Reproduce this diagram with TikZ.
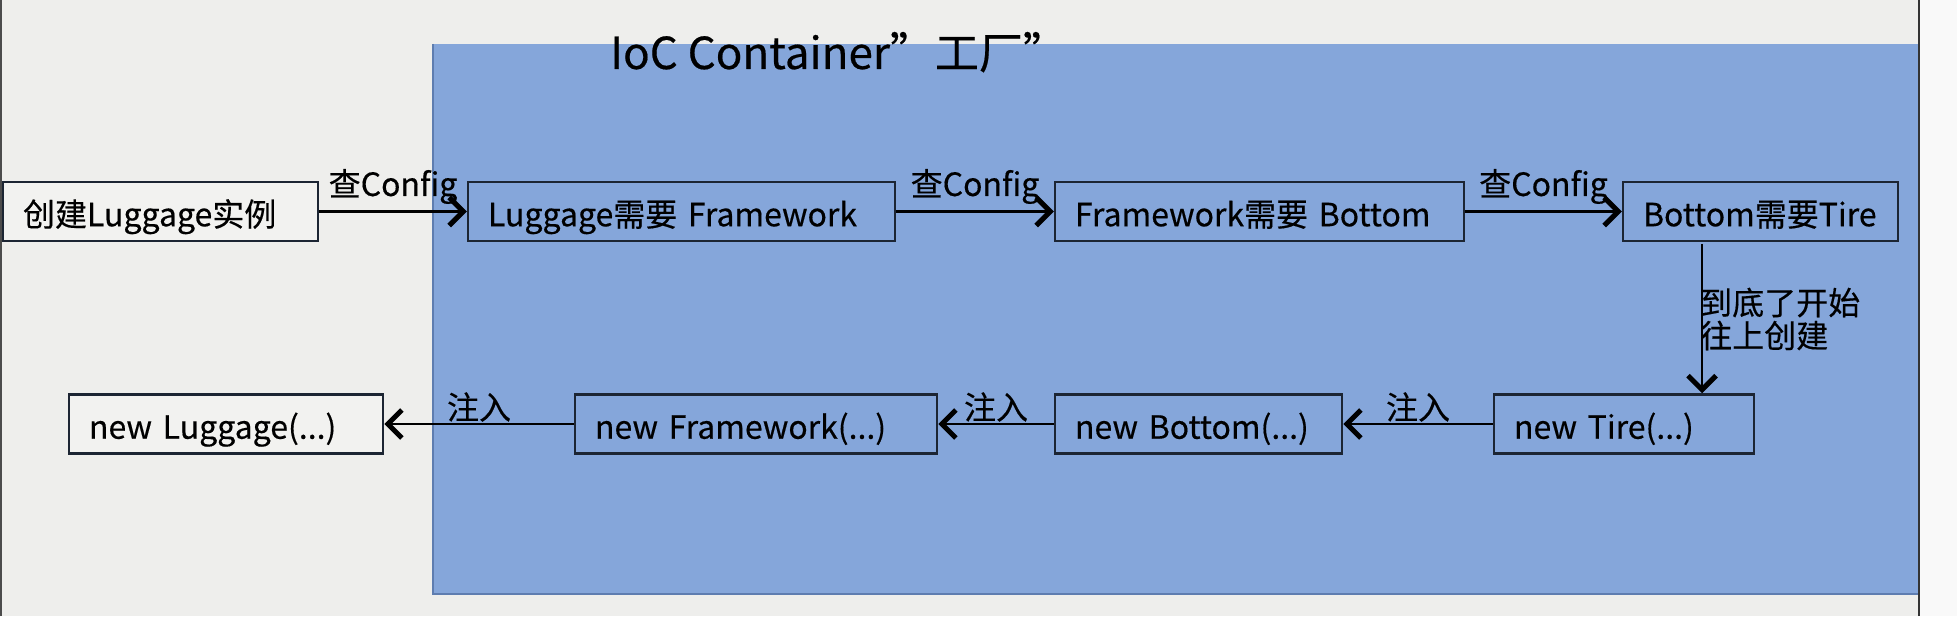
\documentclass[tikz,border=0pt]{standalone}
\usepackage{fontspec}
\setmainfont{Noto Sans CJK SC}[FakeBold=0.4]
\usetikzlibrary{arrows.meta}
\definecolor{bggray}{HTML}{EEEEEC}
\definecolor{boxfill}{HTML}{F2F2F0}
\definecolor{bgwhite}{HTML}{F9F9F9}
\definecolor{iocblue}{HTML}{85A6DA}
\definecolor{boxline}{HTML}{1C2533}
\definecolor{bluedge}{HTML}{5E7DB0}
\tikzset{
  stepbox/.style={draw=boxline, line width=2.5pt, rectangle, minimum height=59pt,
    inner xsep=20pt, inner ysep=0pt, align=left, text height=31pt, text depth=1.5pt,
    font=\fontsize{32}{36}\selectfont},
  lbl/.style={font=\fontsize{32}{36}\selectfont, inner sep=0pt},
  arr/.style={line width=2.8pt, draw=black, -{Straight Barb[length=14pt, width=28pt, line width=5pt]}}
}
\begin{document}
\begin{tikzpicture}[x=1pt,y=1pt]
\useasboundingbox (0,0) rectangle (1957,616);
% background
\fill[bggray] (0,0) rectangle (1957,616);
\fill[bgwhite] (1920,0) rectangle (1957,616);
\draw[line width=2pt, black!80] (1919,0) -- (1919,616);
\draw[line width=2pt, black!70] (1,0) -- (1,616);
% container
\fill[iocblue] (433,22) rectangle (1918,572);
\draw[bluedge, line width=1.5pt] (433,572) -- (433,22) -- (1918,22);
\node[anchor=base west, inner sep=0pt, font=\fontsize{44}{48}\selectfont] (title) at (610,547) {IoC Container”\hspace{1pt}工厂”};
% top row
\node[stepbox, fill=boxfill, text width=275pt] (n1) at (160.5,404.5) {创建Luggage实例};
\node[stepbox, text width=387pt] (n2) at (681.5,404.5) {Luggage需要 Framework};
\node[stepbox, text width=369pt] (n3) at (1259.5,404.5) {Framework需要 Bottom};
\node[stepbox, text width=235pt] (n4) at (1760.5,404.5) {Bottom需要Tire};
% bottom row
\node[stepbox, text width=220pt] (n5) at (1624,192) {new Tire(...)};
\node[stepbox, text width=247pt] (n6) at (1198.5,192) {new Bottom(...)};
\node[stepbox, text width=322pt] (n7) at (756,192) {new Framework(...)};
\node[stepbox, fill=boxfill, text width=274pt] (n8) at (226,192) {new Luggage(...)};
% arrows top
\draw[arr] (n1.east) -- node[lbl, yshift=25pt] (c1) {查Config} (n2.west);
\draw[arr] (n2.east) -- node[lbl, yshift=25pt] (c2) {查Config} (n3.west);
\draw[arr] (n3.east) -- node[lbl, yshift=25pt] (c3) {查Config} (n4.west);
% vertical
\coordinate (v) at (1702,0);
\coordinate (vtop) at (1702,372);
\draw[arr] (vtop) -- (v |- n5.north);
\node[lbl, anchor=west, align=left, font=\fontsize{32}{33}\selectfont] (down) at (1700,297) {到底了开始\\往上创建};
% arrows bottom
\draw[arr] (n5.west) -- node[lbl, yshift=17pt] (i1) {注入} (n6.east);
\draw[arr] (n6.west) -- node[lbl, yshift=17pt] (i2) {注入} (n7.east);
\draw[arr] (n7.west) -- node[lbl, yshift=17pt] (i3) {注入} (n8.east);
\end{tikzpicture}
\end{document}
